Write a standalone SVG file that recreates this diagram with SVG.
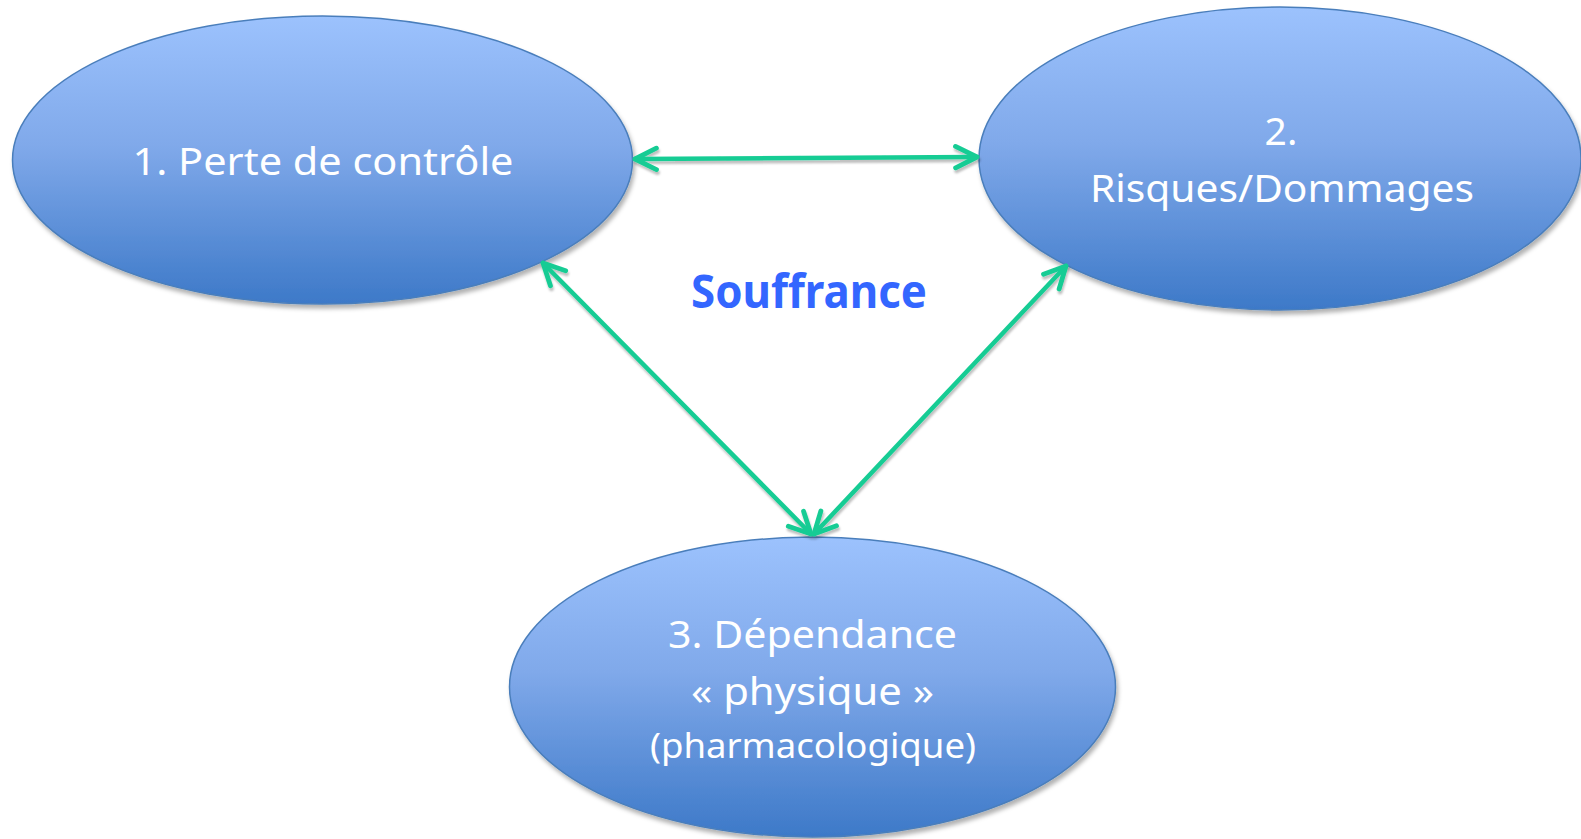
<svg xmlns="http://www.w3.org/2000/svg" width="1581" height="839" viewBox="0 0 1581 839">
  <defs>
    <linearGradient id="blueFill" x1="0" y1="0" x2="0" y2="1">
      <stop offset="0" stop-color="#9CC2FD"/>
      <stop offset="0.45" stop-color="#80A9EA"/>
      <stop offset="1" stop-color="#3D79C8"/>
    </linearGradient>
    <filter id="nodeShadow" x="-10%" y="-10%" width="120%" height="125%">
      <feDropShadow dx="2" dy="4" stdDeviation="2" flood-color="#000" flood-opacity="0.3"/>
    </filter>
    <filter id="lineShadow" x="-10%" y="-10%" width="120%" height="130%">
      <feDropShadow dx="1" dy="3" stdDeviation="1.2" flood-color="#000" flood-opacity="0.25"/>
    </filter>
    <marker id="chevron" markerUnits="userSpaceOnUse" markerWidth="30" markerHeight="30" viewBox="-24 -13 28 26" refX="0" refY="0" orient="auto-start-reverse">
      <path d="M-20,-10 L0,0 L-20,10" fill="none" stroke="#17CC94" stroke-width="4.5" stroke-linecap="round" stroke-linejoin="round"/>
    </marker>
  </defs>
  <style>
    .node ellipse { fill: url(#blueFill); stroke: #4A7EBB; stroke-width: 1.5; filter: url(#nodeShadow); }
    .label { fill: #FFFFFF; font-family: "Noto Sans", "Open Sans", "Liberation Sans", sans-serif; text-anchor: middle; }
    .conn line { stroke: #17CC94; stroke-width: 4.5; stroke-linecap: round; marker-start: url(#chevron); marker-end: url(#chevron); }
    .title { fill: #3366FF; font-family: "Noto Sans", "Open Sans", "Liberation Sans", sans-serif; font-weight: bold; text-anchor: middle; }
  </style>
  <rect width="1581" height="839" fill="#FFFFFF"/>

  <g id="node1" class="node">
    <ellipse cx="322.5" cy="160" rx="310" ry="144"/>
    <text class="label" x="323" y="175" font-size="39" textLength="381" lengthAdjust="spacingAndGlyphs">1. Perte de contrôle</text>
  </g>

  <g id="node2" class="node">
    <ellipse cx="1280" cy="158.5" rx="301" ry="151.5"/>
    <text class="label" x="1281" y="145" font-size="39">2.</text>
    <text class="label" x="1282" y="202" font-size="39" textLength="384" lengthAdjust="spacingAndGlyphs">Risques/Dommages</text>
  </g>

  <g id="node3" class="node">
    <ellipse cx="812.5" cy="687" rx="303" ry="150"/>
    <text class="label" x="812.5" y="648" font-size="39" textLength="289" lengthAdjust="spacingAndGlyphs">3. Dépendance</text>
    <text class="label" x="812.5" y="705" font-size="39" textLength="243" lengthAdjust="spacingAndGlyphs">« physique »</text>
    <text class="label" x="813" y="758" font-size="34" textLength="326" lengthAdjust="spacingAndGlyphs">(pharmacologique)</text>
  </g>

  <g id="connectors" class="conn" filter="url(#lineShadow)">
    <line x1="635" y1="159" x2="977" y2="157"/>
    <line x1="543" y1="263" x2="811" y2="534"/>
    <line x1="1066" y1="266" x2="814" y2="534"/>
  </g>

  <g id="center-label">
    <text class="title" x="809" y="308" font-size="47" textLength="236" lengthAdjust="spacingAndGlyphs">Souffrance</text>
  </g>
</svg>
